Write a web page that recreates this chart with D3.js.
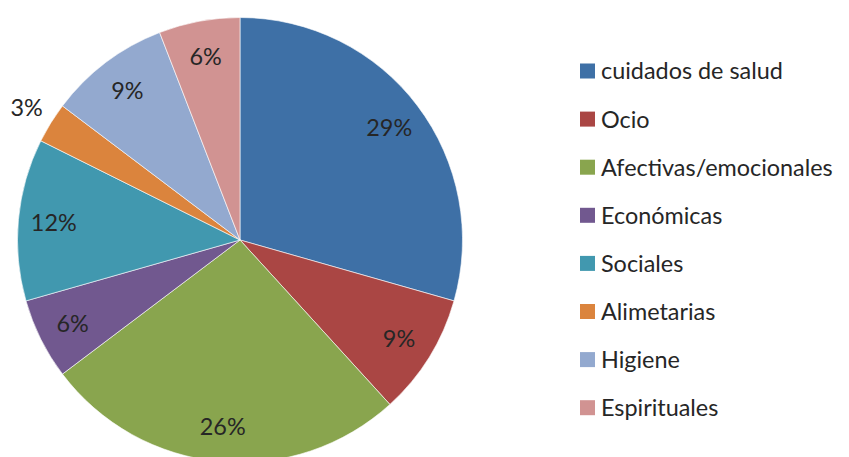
<!DOCTYPE html>
<html>
<head>
<meta charset="utf-8">
<script src="https://cdn.jsdelivr.net/npm/d3@7"></script>
<style>
  body { margin: 0; background: #fff; }
  text { font-family: Lato, "Open Sans", sans-serif; fill: #262626; }
</style>
</head>
<body>
<div id="chart"></div>
<script>
// categories and counts (percentages shown are of the total)
const categories = ["cuidados de salud", "Ocio", "Afectivas/emocionales", "Económicas",
                    "Sociales", "Alimetarias", "Higiene", "Espirituales"];
const counts = [10, 3, 9, 2, 4, 1, 3, 2];
const colors = ["#3E70A6", "#AA4644", "#89A54E", "#71588F",
                "#4198AF", "#DB843D", "#93A9CF", "#D19392"];

const width = 849, height = 457;
const cx = 240, cy = 240, radius = 222.5;

const svg = d3.select("#chart").append("svg")
    .attr("width", width)
    .attr("height", height);

const total = d3.sum(counts);
const data = categories.map((c, i) => ({ name: c, value: counts[i], color: colors[i] }));

const pie = d3.pie()
    .sort(null)
    .value(d => d.value);

const arcs = pie(data);

const arc = d3.arc()
    .innerRadius(0)
    .outerRadius(radius);

const g = svg.append("g")
    .attr("transform", `translate(${cx},${cy})`);

g.selectAll(".slice")
    .data(arcs)
    .enter().append("path")
    .attr("class", "slice")
    .attr("d", arc)
    .attr("fill", d => d.data.color)
    .attr("stroke", "#fff")
    .attr("stroke-width", 0.6);

// labels: inside except the tiny slice, which goes outside
const labelArc = d3.arc().innerRadius(187).outerRadius(187);
const outerArc = d3.arc().innerRadius(251).outerRadius(251);

g.selectAll(".lbl")
    .data(arcs)
    .enter().append("text")
    .attr("class", "lbl")
    .attr("transform", d => {
        const p = (d.data.value / total < 0.05) ? outerArc.centroid(d) : labelArc.centroid(d);
        return `translate(${p[0]},${p[1]})`;
    })
    .attr("text-anchor", "middle")
    .attr("dy", "0.36em")
    .style("font-size", "23.4px")
    .text(d => Math.round(d.data.value / total * 100) + "%");

// legend
const legend = svg.selectAll(".legend")
    .data(data)
    .enter().append("g")
    .attr("class", "legend")
    .attr("transform", (d, i) => `translate(580,${71 + i * 48.1})`);

legend.append("rect")
    .attr("x", 0)
    .attr("y", -7.5)
    .attr("width", 15)
    .attr("height", 15)
    .attr("fill", d => d.color);

legend.append("text")
    .attr("x", 21)
    .attr("y", 0)
    .attr("dy", "0.36em")
    .style("font-size", "23.4px")
    .text(d => d.name);
</script>
</body>
</html>
